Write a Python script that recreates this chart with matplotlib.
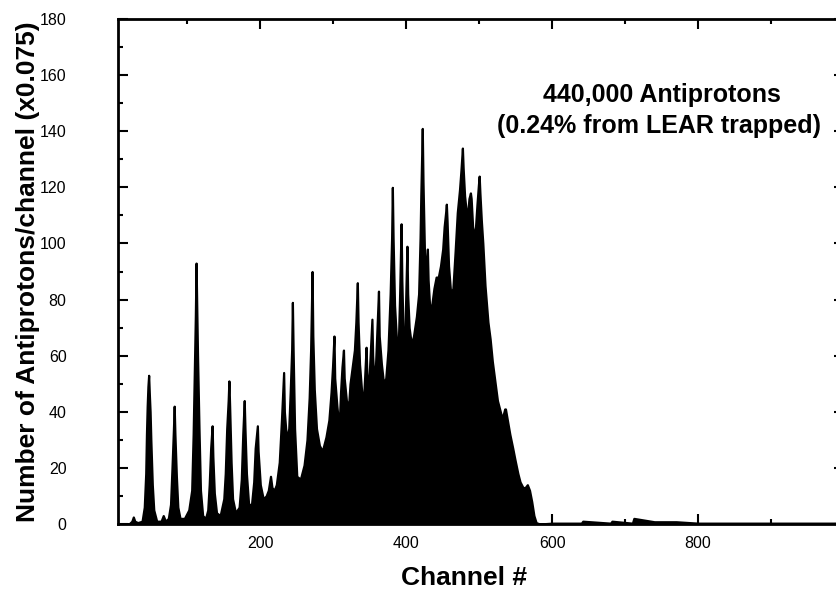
import numpy as np
import matplotlib
matplotlib.use("Agg")
import matplotlib.pyplot as plt
from matplotlib.ticker import MultipleLocator

# outline of the channel histogram (channel, counts)
channels = [5, 20, 24, 26, 28, 32, 38, 41, 43, 44, 45, 46, 47, 48, 49, 50, 52, 54, 58,
            64, 67, 70, 74, 77, 79, 81, 82, 83, 85, 87, 90, 96, 102, 106, 108, 110,
            111, 112, 113, 114, 116, 118, 121, 125, 128, 130, 132, 134, 135, 137, 140,
            145, 150, 152, 154, 156, 157, 158, 160, 162, 166, 171, 174, 176, 178, 179,
            181, 184, 188, 191, 193, 196, 197, 200, 204, 208, 211, 214, 216, 219, 222,
            226, 229, 232, 233, 236, 239, 241, 243, 244, 245, 247, 250, 255, 260, 264,
            267, 269, 271, 272, 274, 277, 281, 285, 290, 294, 297, 299, 301, 302, 305,
            308, 310, 312, 314, 315, 318, 321, 323, 326, 329, 331, 333, 334, 336, 339,
            341, 343, 345, 346, 348, 350, 353, 354, 356, 358, 360, 362, 363, 366, 369,
            372, 375, 378, 380, 381, 382, 384, 387, 389, 391, 393, 394, 396, 398, 399,
            401, 402, 404, 407, 410, 414, 417, 419, 420, 422, 423, 425, 427, 429, 430,
            432, 435, 438, 441, 444, 447, 450, 452, 454, 455, 456, 458, 461, 464, 467,
            470, 473, 475, 477, 478, 480, 482, 484, 486, 488, 489, 491, 493, 495, 497,
            499, 500, 501, 503, 505, 508, 512, 515, 518, 522, 525, 528, 531, 533, 535,
            536, 538, 542, 546, 549, 553, 556, 560, 563, 566, 569, 572, 575, 578, 583,
            600, 640, 642, 680, 682, 710, 712, 740, 770, 800, 900, 1000]
counts = [0, 0, 1, 2.5, 1, 0.5, 1, 6, 18, 32, 42, 49, 53, 46, 40, 30, 14, 5, 1,
          1, 3, 1, 2, 7, 20, 34, 42, 32, 17, 6, 2, 2, 5, 12, 32, 60,
          74, 93, 76, 60, 34, 12, 3, 2, 5, 14, 27, 35, 24, 11, 4,
          3, 9, 18, 34, 44, 51, 42, 22, 9, 4, 6, 16, 32, 44, 34,
          18, 7, 7, 15, 27, 35, 26, 14, 9, 10, 12, 17, 13, 12, 14,
          22, 37, 54, 40, 30, 34, 47, 62, 79, 62, 34, 17, 16, 21, 30,
          45, 62, 90, 67, 48, 34, 28, 26, 31, 37, 47, 56, 67, 52, 42,
          34, 47, 56, 62, 52, 44, 42, 50, 56, 62, 72, 86, 72, 57, 47,
          42, 52, 63, 54, 46, 57, 73, 60, 50, 57, 70, 83, 67, 57, 50,
          52, 62, 82, 102, 120, 102, 78, 64, 62, 82, 107, 87, 65, 62, 77,
          99, 82, 70, 64, 67, 74, 82, 102, 117, 141, 122, 97, 88, 98, 87,
          78, 78, 84, 88, 88, 92, 98, 106, 111, 114, 108, 92, 82, 84, 97,
          111, 119, 126, 134, 127, 117, 112, 110, 116, 118, 116, 106, 102, 106, 114,
          121, 124, 118, 108, 100, 85, 72, 66, 58, 50, 44, 41, 38, 39, 41,
          41, 38, 32, 27, 23, 18, 15, 13, 13, 14, 12, 8, 3, 0.5, 0,
          0.3, 0.3, 1, 0.3, 1, 0.3, 2, 0.8, 0.8, 0.3, 0.3, 0.3]

x_ticks = [200, 400, 600, 800]
y_ticks = list(range(0, 181, 20))

W, H = 836, 591
fig = plt.figure(figsize=(W / 100, H / 100), dpi=100)
# axes run slightly past the right edge, as in the cropped scan
ax = fig.add_axes([118 / W, (H - 524) / H, 726 / W, 505 / H])

ax.fill_between(channels, counts, 0, color="black", linewidth=1.6, edgecolor="black")

ax.set_xlim(5, 1000)
ax.set_ylim(0, 180)
ax.set_xticks(x_ticks)
ax.set_yticks(y_ticks)
ax.xaxis.set_minor_locator(MultipleLocator(100))
ax.yaxis.set_minor_locator(MultipleLocator(10))

tick_font = ["Liberation Sans Narrow", "Liberation Sans", "DejaVu Sans"]
ax.tick_params(which="both", direction="in", top=True, right=True, width=1.5)
ax.tick_params(which="major", length=7)
ax.tick_params(which="minor", length=3.5)
ax.tick_params(axis="y", pad=37, labelsize=11.5)
ax.tick_params(axis="x", pad=9, labelsize=11.5)
for lab in ax.get_xticklabels() + ax.get_yticklabels():
    lab.set_family(tick_font)

for s in ax.spines.values():
    s.set_linewidth(2)

label_font = dict(family=["Liberation Sans", "DejaVu Sans"], weight="bold", size=19)
ax.set_xlabel("Channel #", **label_font)
ax.set_ylabel("Number of Antiprotons/channel (x0.075)", **label_font)
ax.xaxis.set_label_coords(0.477, -0.083)
ax.yaxis.set_label_coords(-0.108, 0.5)

note_font = dict(family=["Liberation Sans", "DejaVu Sans"], weight="bold", size=18)
ax.text(750, 153, "440,000 Antiprotons", ha="center", va="center", **note_font)
ax.text(747, 142, "(0.24% from LEAR trapped)", ha="center", va="center", **note_font)

fig.savefig("out.png", dpi=100)
